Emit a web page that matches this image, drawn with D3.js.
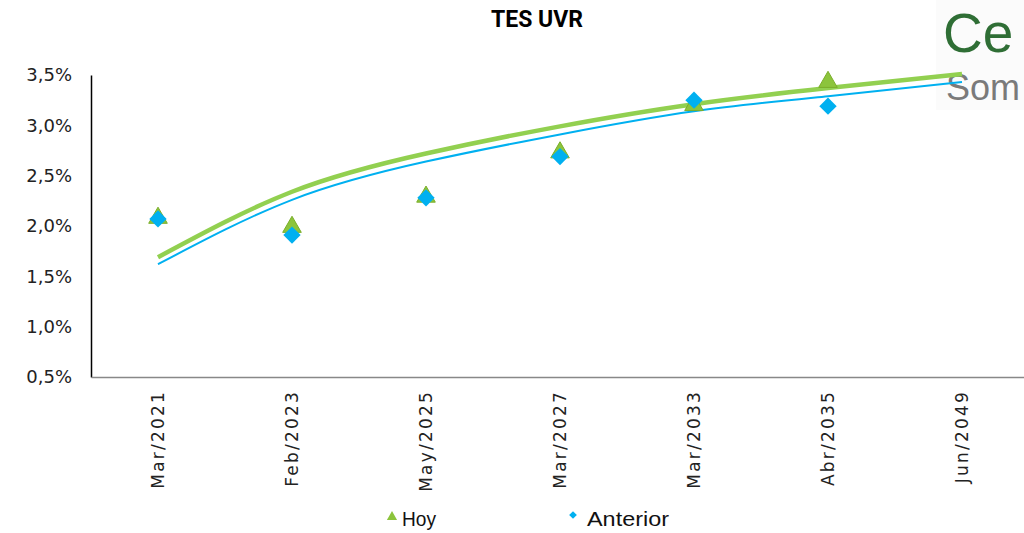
<!DOCTYPE html>
<html>
<head>
<meta charset="utf-8">
<script src="https://cdn.jsdelivr.net/npm/d3@7"></script>
<style>
  html, body { margin: 0; padding: 0; background: #fff; }
  svg { display: block; }
</style>
</head>
<body>
<svg id="chart" width="1024" height="533"></svg>
<script>
const categories = ["Mar/2021", "Feb/2023", "May/2025", "Mar/2027", "Mar/2033", "Abr/2035", "Jun/2049"];
const hoy = [2.10, 2.01, 2.31, 2.75, 3.22, 3.45, null];
const anterior = [2.07, 1.91, 2.28, 2.69, 3.25, 3.19, null];
const trendHoy = [1.69, 2.34, 2.72, 2.99, 3.21, 3.37, 3.51];
const trendAnterior = [1.62, 2.26, 2.64, 2.91, 3.14, 3.29, 3.43];
const yTicks = [0.5, 1.0, 1.5, 2.0, 2.5, 3.0, 3.5];

const svg = d3.select("#chart");
const font = "'DejaVu Sans', sans-serif";
const green = "#92D050", blue = "#00B0F0", markerGreen = "#8CC43C";

// logo (partial, top-right)
const logo = svg.append("g");
logo.append("rect").attr("x", 936).attr("y", 0).attr("width", 88).attr("height", 110).attr("fill", "#fbfbfb");
logo.append("text").attr("x", 943).attr("y", 52).attr("font-family", "'Liberation Sans', sans-serif")
  .attr("font-size", 55)
  .attr("fill", "#2f6e35").text("Ce");
logo.append("text").attr("x", 946).attr("y", 100).attr("font-family", "'Liberation Sans', sans-serif")
  .attr("font-size", 36)
  .attr("fill", "#7a7a7a").text("Som");

const x = d3.scalePoint().domain(categories).range([91, 1029]).padding(0.5);
const y = d3.scaleLinear().domain([0.5, 3.5]).range([377, 75]);

// title
svg.append("text").attr("x", 537).attr("y", 27).attr("text-anchor", "middle")
  .attr("font-family", "'Roboto', 'Liberation Sans', sans-serif")
  .attr("font-weight", "bold").attr("font-size", 24)
  .attr("textLength", 92).attr("lengthAdjust", "spacingAndGlyphs")
  .attr("fill", "#000").text("TES UVR");

// y axis
const yAxis = svg.append("g").attr("transform", "translate(91,0)")
  .call(d3.axisLeft(y).tickValues(yTicks).tickSize(0).tickPadding(19)
    .tickFormat(d => d.toFixed(1).replace(".", ",") + "%"));
yAxis.select(".domain").attr("stroke", "#000").attr("stroke-width", 1.5);
yAxis.selectAll("text").attr("font-family", font).attr("font-size", 18).attr("fill", "#222");

// x axis
const xAxis = svg.append("g").attr("transform", "translate(0,377)")
  .call(d3.axisBottom(x).tickSize(0));
xAxis.select(".domain").attr("stroke", "#888").attr("stroke-width", 1.5);
xAxis.selectAll("text")
  .attr("font-family", font).attr("font-size", 17).attr("letter-spacing", 2.2).attr("fill", "#222")
  .attr("transform", "rotate(-90)").attr("text-anchor", "end")
  .attr("x", -13).attr("y", 0).attr("dy", "0.35em");

// trend lines
const line = d3.line().x((d, i) => x(categories[i])).y(d => y(d)).curve(d3.curveNatural);
svg.append("path").datum(trendAnterior).attr("d", line).attr("fill", "none")
  .attr("stroke", blue).attr("stroke-width", 2);
svg.append("path").datum(trendHoy).attr("d", line).attr("fill", "none")
  .attr("stroke", green).attr("stroke-width", 4.5);

// markers
const tri = d3.symbol().type(d3.symbolTriangle).size(150);
const sq = d3.symbol().type(d3.symbolSquare).size(150);
svg.append("g").selectAll("path").data(hoy.map((v, i) => [categories[i], v]).filter(d => d[1] != null))
  .join("path").attr("d", tri)
  .attr("transform", d => `translate(${x(d[0])},${y(d[1]) + 2})`)
  .attr("fill", markerGreen).attr("stroke", "#7AAE2A").attr("stroke-width", 1);
svg.append("g").selectAll("path").data(anterior.map((v, i) => [categories[i], v]).filter(d => d[1] != null))
  .join("path").attr("d", sq)
  .attr("transform", d => `translate(${x(d[0])},${y(d[1])}) rotate(45)`)
  .attr("fill", blue);

// legend
const lg = svg.append("g");
lg.append("path").attr("d", d3.symbol().type(d3.symbolTriangle).size(45))
  .attr("transform", "translate(392,517)").attr("fill", markerGreen);
lg.append("text").attr("x", 402).attr("y", 526)
  .attr("font-family", "'Liberation Sans', sans-serif")
  .attr("font-size", 20).attr("textLength", 34).attr("lengthAdjust", "spacingAndGlyphs")
  .attr("fill", "#111").text("Hoy");
lg.append("path").attr("d", d3.symbol().type(d3.symbolSquare).size(30))
  .attr("transform", "translate(573,515) rotate(45)").attr("fill", blue);
lg.append("text").attr("x", 587).attr("y", 526)
  .attr("font-family", "'Liberation Sans', sans-serif")
  .attr("font-size", 20).attr("textLength", 82).attr("lengthAdjust", "spacingAndGlyphs")
  .attr("fill", "#111").text("Anterior");
</script>
</body>
</html>
